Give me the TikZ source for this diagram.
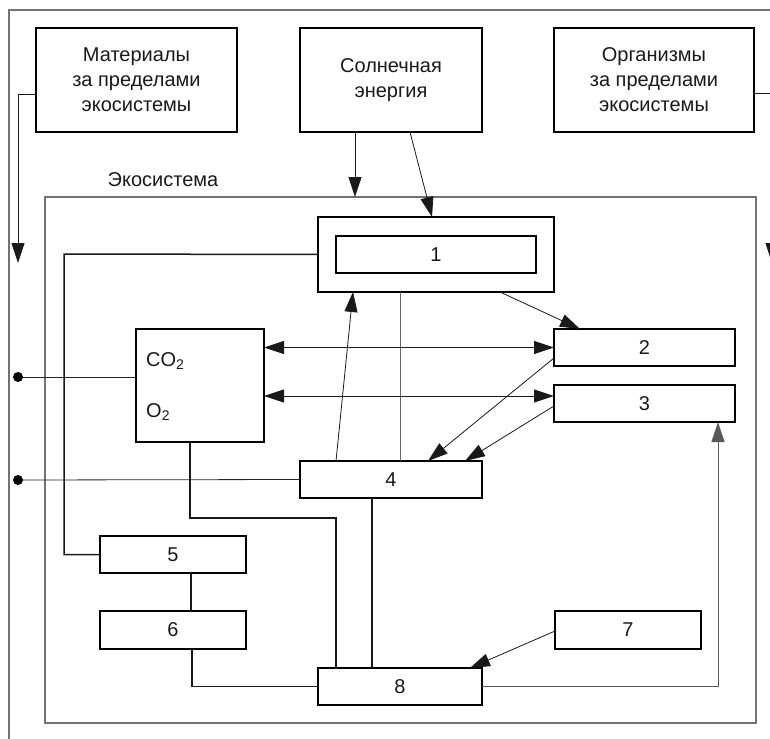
\documentclass[tikz,border=0pt]{standalone}
\usepackage{fontspec}
\setmainfont{Liberation Sans}
\usetikzlibrary{arrows.meta,calc}
\begin{document}
\begin{tikzpicture}[x=1pt,y=-1pt,
  blk/.style={draw=black, line width=1.6pt, inner sep=0pt, outer sep=0pt,
    font=\fontsize{20}{25}\selectfont, align=center, text=black!90},
  txt/.style={font=\fontsize{20}{25}\selectfont, text=black!90, inner sep=0pt},
  arr/.style={line width=0.8pt, draw=black!90, -{Triangle[length=20pt,width=13pt]}},
  darr/.style={line width=0.8pt, draw=black!90, {Triangle[length=20pt,width=13pt]}-{Triangle[length=20pt,width=13pt]}},
  thk/.style={line width=1.5pt, draw=black!90},
  thn/.style={line width=0.8pt, draw=black!85},
  grayln/.style={line width=0.9pt, draw=black!60},
  framebox/.style={draw=black!55, line width=1.2pt, inner sep=0pt, outer sep=0pt}]
\useasboundingbox (0,0) rectangle (770,738);

% outer frame
\draw[framebox] (9,745) -- (9,10) -- (780,10);

% ecosystem frame
\node[framebox, minimum width=711pt, minimum height=526pt] (eco) at (400.5,460) {};
\node[txt] (ecolbl) at (163,180) {Экосистема};

% top boxes
\node[blk, minimum width=201pt, minimum height=104pt] (mat) at (136.5,80) {Материалы\\за пределами\\экосистемы};
\node[blk, minimum width=182pt, minimum height=104pt] (sol) at (391,80) {Солнечная\\энергия};
\node[blk, minimum width=200pt, minimum height=104pt] (org) at (654,80) {Организмы\\за пределами\\экосистемы};

% box 1
\node[blk, minimum width=236pt, minimum height=75pt] (b1o) at (436,254.5) {};
\node[blk, minimum width=200pt, minimum height=37pt] (b1) at (436,254.5) {1};

% CO2 box
\node[blk, minimum width=128pt, minimum height=113pt] (co) at (200,385.5) {};
\node[txt, anchor=west] (co2) at (146,361) {CO\textsubscript{2}};
\node[txt, anchor=west] (o2) at (146,412) {O\textsubscript{2}};

% numbered boxes
\node[blk, minimum width=181pt, minimum height=37pt] (b2) at (644.5,347.5) {2};
\node[blk, minimum width=181pt, minimum height=37pt] (b3) at (644.5,403.5) {3};
\node[blk, minimum width=182pt, minimum height=37pt] (b4) at (391,479.5) {4};
\node[blk, minimum width=146pt, minimum height=37pt] (b5) at (173,554.5) {5};
\node[blk, minimum width=146pt, minimum height=38pt] (b6) at (173,630) {6};
\node[blk, minimum width=146pt, minimum height=38pt] (b7) at (628,630) {7};
\node[blk, minimum width=164pt, minimum height=37pt] (b8) at (400,686.5) {8};

% outside arrows
\coordinate (mL) at (18,263);
\coordinate (oR) at (772,263);
\draw[arr] ($(mat.west)+(0,14)$) -| (mL);
\draw[arr] ($(org.east)+(0,13)$) -| (oR);

% sun arrows
\coordinate (sunA) at ($(sol.south)+(-36,0)$);
\draw[arr] (sunA) -- (sunA |- eco.north);
\draw[arr] ($(sol.south)+(19,0)$) -- ($(b1o.north)+(-4,0)$);

% box1 -> 5 polyline
\draw[thk] (b1o.west) -- (64,254) |- (b5.west);

% 4 -> 1 and 1 -- 4
\draw[arr] ($(b4.north)+(-55,0)$) -- ($(b1o.south)+(-83,0)$);
\draw[grayln] ($(b1o.south)+(-36,0)$) -- ($(b4.north)+(9,0)$);
% 1 -> 2
\draw[arr] ($(b1o.south)+(64,0)$) -- ($(b2.north)+(-64.5,0)$);

% CO2 <-> 2,3
\draw[darr] (co.east |- b2.west) -- (b2.west);
\coordinate (b3L) at ($(b3.west)+(0,-7.5)$);
\draw[darr] (co.east |- b3L) -- (b3L);

% 2,3 -> 4
\draw[arr] ($(b2.west)+(0,10.5)$) -- ($(b4.north)+(37,0)$);
\draw[arr] ($(b3.west)+(0,2.5)$) -- ($(b4.north)+(74,0)$);

% dots
\coordinate (d1) at (18,377);
\coordinate (d2) at (18,480);
\draw[thn] (d1) -- ($(co.west)+(0,-8.5)$);
\draw[thn] (d2) -- (b4.west);
\fill[black] (d1) circle (5pt);
\fill[black] (d2) circle (5pt);

% CO2 -> 8
\draw[thk] ($(co.south)+(-10,0)$) -- ++(0,76) -| ($(b8.north)+(-64,0)$);
% 4 -> 8
\draw[thk] ($(b4.south)+(-19,0)$) -- ($(b8.north)+(-28,0)$);
% 5 -- 6
\draw[thk] ($(b5.south)+(18,0)$) -- ($(b6.north)+(18,0)$);
% 6 -> 8
\draw[thk] ($(b6.south)+(19,0)$) |- (b8.west);
% 8 -> 3
\draw[arr, draw=black!65] (b8.east) -| ($(b3.south)+(73.5,0)$);
% 7 -> 8
\draw[arr] ($(b7.west)+(0,1)$) -- ($(b8.north)+(70,0)$);
\end{tikzpicture}
\end{document}
